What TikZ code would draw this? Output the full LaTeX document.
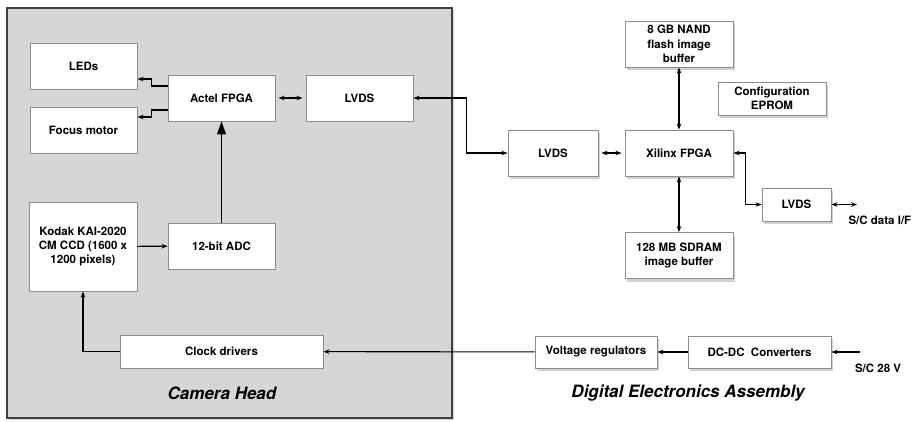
\documentclass[tikz,border=0pt]{standalone}
\usepackage{fontspec}
\setmainfont{TeX Gyre Heros}
\usetikzlibrary{arrows.meta, positioning, shadows}

\begin{document}
\begin{tikzpicture}[x=1pt, y=-1pt, on grid,
every node/.style={font=\bfseries\fontsize{11.5}{14.3}\selectfont},
block/.style={draw=black!45, fill=white, line width=0.9pt, align=center,
  minimum width=107pt, minimum height=46pt, inner sep=1pt},
dea/.style={block, drop shadow={shadow xshift=1.5pt, shadow yshift=-3pt, opacity=0.35}},
arr/.style={line width=1.1pt, -{Stealth[length=6pt,width=4.5pt]}},
darr/.style={line width=1.1pt, {Stealth[length=6pt,width=4.5pt]}-{Stealth[length=6pt,width=4.5pt]}},
title/.style={font=\bfseries\itshape\fontsize{17}{20}\selectfont}]

\useasboundingbox (0,0) rectangle (915,421);
\fill[white] (0,0) rectangle (915,421);
\draw[draw=black!75, fill=black!16, line width=1.8pt,
  drop shadow={shadow xshift=1.5pt, shadow yshift=-2pt, opacity=0.3}] (7,8) rectangle (452,418);

\node (actel) [block] at (221.5,98) {Actel FPGA};
\node (lvdscam) [block, right=138pt of actel] {LVDS};
\node (adc) [block, below=148pt of actel] {12-bit ADC};
\node (leds) [block] at (83.5,66) {LEDs};
\node (focus) [block, below=64pt of leds] {Focus motor};
\node (kodak) [block, minimum width=108pt, minimum height=89pt] at (83,246.5)
  {Kodak KAI-2020\\CM CCD (1600 x\\1200 pixels)};
\node (clock) [block, minimum width=203pt, minimum height=33pt, below=105.5pt of adc] {Clock drivers};
\node (camlbl) [title] at (222,393) {Camera Head};

\node (xilinx) [dea, minimum width=108pt] at (679,153) {Xilinx FPGA};
\node (nand) [dea, minimum width=108pt, above=109pt of xilinx] {8 GB NAND\\flash image\\buffer};
\node (sdram) [dea, minimum width=108pt, below=102.5pt of xilinx] {128 MB SDRAM\\image buffer};
\node (lvdsdea) [dea, minimum width=90pt, left=126pt of xilinx] {LVDS};
\node (eprom) [dea, minimum width=108pt, minimum height=33pt] at (772,98.5) {Configuration\\EPROM};
\node (lvdsio) [dea, minimum width=69pt, minimum height=33pt] at (796.5,204.5) {LVDS};
\node (voltreg) [dea, minimum width=122pt, minimum height=32pt] at (596,352) {Voltage regulators};
\node (dcdc) [dea, minimum width=143pt, minimum height=32pt, right=163.5pt of voltreg] {DC-DC\ \ Converters};
\node (dealbl) [title] at (688,393) {Digital Electronics Assembly};

\coordinate (dataio) at (857,204.5);
\coordinate (pwrin) at (860,352);
\node (datalbl) [anchor=west] at (845,220) {S/C data I/F};
\node (pwrlbl) at (878,368) {S/C 28 V};

\draw [arr] ([yshift=12pt]actel.west) -- ++(-16,0) |- ([yshift=-13pt]leds.east);
\draw [arr] ([yshift=-12pt]actel.west) -- ++(-16,0) |- ([yshift=13pt]focus.east);
\draw [darr, shorten <=3pt, shorten >=3pt] (actel) -- (lvdscam);
\draw [darr] (lvdsdea.west) -- ++(-41,0) |- (lvdscam.east);
\draw [line width=1.1pt, -{Triangle[length=13pt,width=9pt]}] (adc) -- (actel);
\draw [arr] (kodak) -- (adc);
\draw [arr] (clock.west) -| (kodak.south);
\draw [arr] (voltreg) -- (clock);
\draw [arr] (dcdc) -- (voltreg);
\draw [arr] (pwrin) -- (dcdc);
\draw [darr, shorten <=3pt, shorten >=3pt] (lvdsdea) -- (xilinx);
\draw [darr] (nand) -- (xilinx);
\draw [darr] (xilinx) -- (sdram);
\draw [darr] (xilinx.east) -- ++(12,0) |- (lvdsio.west);
\draw [darr] (lvdsio) -- (dataio);
\end{tikzpicture}
\end{document}
